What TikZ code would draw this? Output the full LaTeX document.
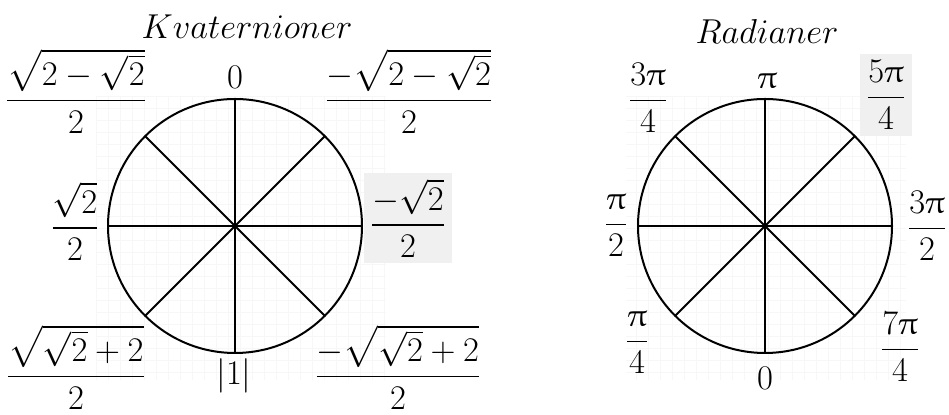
\documentclass[tikz,border=0pt]{standalone}
\usepackage{amsmath}
\usepackage{upgreek}
\tikzset{
  rund/.style   = {circle, draw, line width=1pt, minimum size=127pt, inner sep=0pt, outer sep=0pt},
  eiker/.style  = {line width=1pt},
  et/.style     = {font=\fontsize{16}{19}\selectfont, inner sep=1pt},
  merket/.style = {et, fill=black!6, inner xsep=3pt, inner ysep=3pt},
  tittel/.style = {font=\fontsize{16}{19}\selectfont},
  rute/.style   = {draw=black!3, line width=0.4pt}
}
\begin{document}
\begin{tikzpicture}[x=0.5pt,y=-0.5pt]
  \useasboundingbox (0,0) rectangle (949,415);
  % svakt rutenett bak sirklene
  \draw[rute, step=6pt] (96,96) grid (386,380);
  \draw[rute, step=6pt] (626,96) grid (906,380);

  % Kvaternioner
  \node[tittel] (kt) at (247,27) {$Kvaternioner$};
  \node[rund] (K) at (235,226){};
  \foreach \v [evaluate=\v as \w using int(\v+180)] in {0,45,90,135}
    \draw[eiker] (K.\v) -- (K.\w);
  \node[et] (kN)  at (235,77)  {$0$};
  \node[et] (kNW) at (76,91)   {$\dfrac{\sqrt{2-\sqrt{2}}}{2}$};
  \node[et] (kNE) at (409,91)  {$\dfrac{-\sqrt{2-\sqrt{2}}}{2}$};
  \node[et] (kW)  at (75,221)  {$\dfrac{\sqrt{2}}{2}$};
  \node[merket] (kE) at (408,218) {$\dfrac{-\sqrt{2}}{2}$};
  \node[et] (kS)  at (234,376) {$|1|$};
  \node[et] (kSW) at (76,367)  {$\dfrac{\sqrt{\sqrt{2}+2}}{2}$};
  \node[et] (kSE) at (398,367) {$\dfrac{-\sqrt{\sqrt{2}+2}}{2}$};

  % Radianer
  \node[tittel] (rt) at (767,32) {$Radianer$};
  \node[rund] (R) at (765,226){};
  \foreach \v [evaluate=\v as \w using int(\v+180)] in {0,45,90,135}
    \draw[eiker] (R.\v) -- (R.\w);
  \node[et] (rN)  at (767,81)  {$\uppi$};
  \node[et] (rNW) at (648,98)  {$\dfrac{3\uppi}{4}$};
  \node[merket] (rNE) at (886,95) {$\dfrac{5\uppi}{4}$};
  \node[et] (rW)  at (616,226) {$\dfrac{\uppi}{2}$};
  \node[et] (rE)  at (927,226) {$\dfrac{3\uppi}{2}$};
  \node[et] (rSW) at (637,343) {$\dfrac{\uppi}{4}$};
  \node[et] (rS)  at (765,378) {$0$};
  \node[et] (rSE) at (900,347) {$\dfrac{7\uppi}{4}$};
\end{tikzpicture}
\end{document}
